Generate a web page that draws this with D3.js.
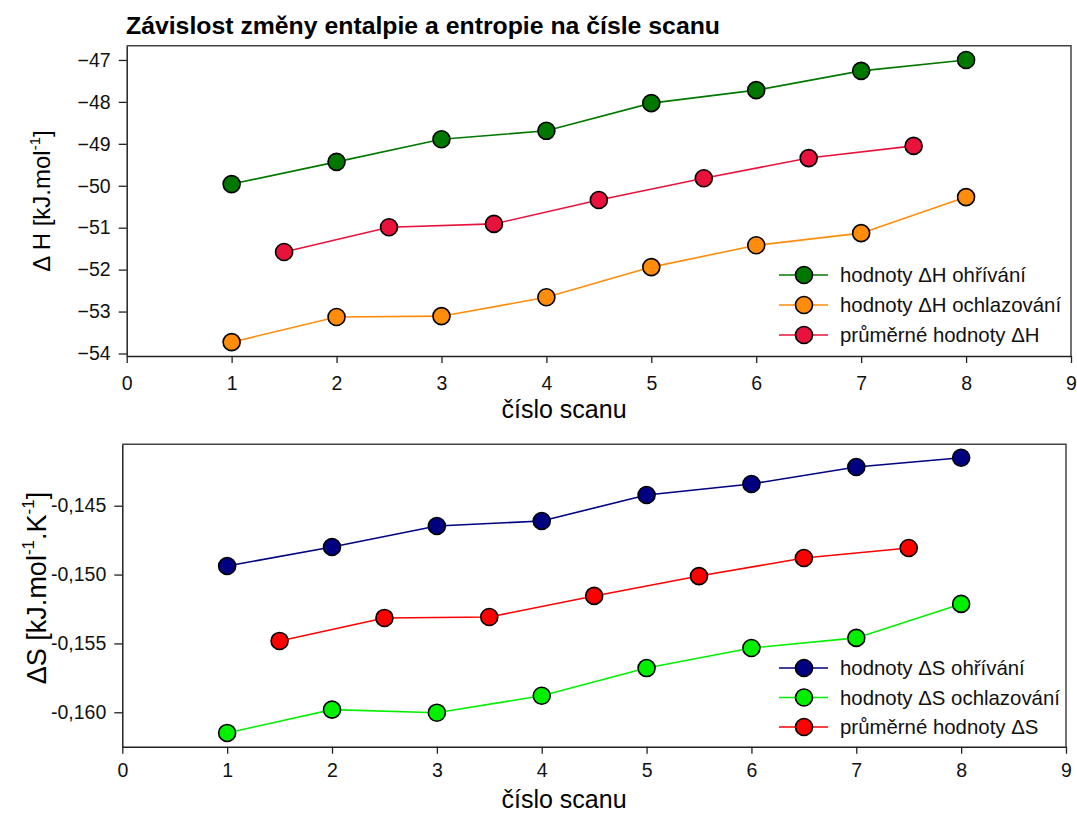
<!DOCTYPE html>
<html><head><meta charset="utf-8">
<script src="https://cdn.jsdelivr.net/npm/d3@7"></script>
<style>body{margin:0;background:#fff}svg{display:block;font-family:"Liberation Sans",Arial,sans-serif}</style>
</head><body>
<svg id="c" width="1077" height="814"></svg>
<script>
const scans = [1,2,3,4,5,6,7,8];
const avgScans = [1.5,2.5,3.5,4.5,5.5,6.5,7.5];
const xTicks = [0,1,2,3,4,5,6,7,8,9];

const dHheat = [-49.96,-49.43,-48.89,-48.69,-48.03,-47.72,-47.26,-47.00];
const dHcool = [-53.73,-53.13,-53.11,-52.66,-51.94,-51.42,-51.13,-50.27];
const dHavg  = [-51.58,-50.99,-50.91,-50.34,-49.82,-49.34,-49.05];
const hTicks = [-54,-53,-52,-51,-50,-49,-48,-47];

const dSheat = [-0.14938,-0.14800,-0.14647,-0.14611,-0.14422,-0.14342,-0.14219,-0.14152];
const dScool = [-0.16150,-0.15981,-0.16003,-0.15880,-0.15679,-0.15533,-0.15460,-0.15213];
const dSavg  = [-0.15482,-0.15315,-0.15308,-0.15155,-0.15011,-0.14880,-0.14807];
const sTicks = [-0.160,-0.155,-0.150,-0.145];

const title = "Závislost změny entalpie a entropie na čísle scanu";

const svg = d3.select("#c");

svg.append("text").attr("x",126).attr("y",34).attr("font-size",24.8).attr("font-weight","bold").text(title);

function panel(o){
  const x = d3.scaleLinear().domain([0,9]).range([o.left,o.right]);
  const y = d3.scaleLinear().domain(o.ydom).range([o.bottom,o.top]);
  const g = svg.append("g");
  g.append("path").attr("d",`M${o.left},${o.top}H${o.right}V${o.bottom}`).attr("fill","none").attr("stroke","#444").attr("stroke-width",1.5);
  const xa = g.append("g").attr("transform",`translate(0,${o.bottom})`)
    .call(d3.axisBottom(x).tickValues(xTicks).tickSize(7).tickPadding(o.xpad).tickFormat(d3.format("d")).tickSizeOuter(0));
  const ya = g.append("g").attr("transform",`translate(${o.left},0)`)
    .call(d3.axisLeft(y).tickValues(o.yticks).tickSize(8).tickPadding(8).tickFormat(o.fmt).tickSizeOuter(0));
  [xa,ya].forEach(a=>{
    a.select(".domain").attr("stroke","#222").attr("stroke-width",1.5);
    a.selectAll(".tick line").attr("stroke","#222").attr("stroke-width",1.3);
    a.selectAll("text").attr("font-size",19.5).attr("fill","#111").attr("font-family","Liberation Sans, Arial, sans-serif");
  });
  g.append("text").attr("x",564).attr("y",o.bottom+o.xtDy).attr("text-anchor","middle").attr("font-size",25).text("číslo scanu");
  const yt = g.append("text").attr("transform",`translate(${o.ytx},${o.ytc}) rotate(-90)`).attr("text-anchor","middle").attr("font-size",o.ytfs);
  o.ytitle(yt);
  o.series.forEach(s=>{
    const pts = s.xs.map((xv,i)=>[xv,s.ys[i]]);
    g.append("path").datum(pts).attr("fill","none").attr("stroke",s.color).attr("stroke-width",1.6)
      .attr("d",d3.line().x(d=>x(d[0])).y(d=>y(d[1])));
    g.selectAll(null).data(pts).enter().append("circle")
      .attr("cx",d=>x(d[0])).attr("cy",d=>y(d[1])).attr("r",8.5)
      .attr("fill",s.color).attr("stroke","#000").attr("stroke-width",1.6);
  });
  o.series.forEach((s,i)=>{
    const ly = o.legY + i*o.legDy;
    g.append("line").attr("x1",779).attr("x2",828).attr("y1",ly).attr("y2",ly).attr("stroke",s.color).attr("stroke-width",1.6);
    g.append("circle").attr("cx",804).attr("cy",ly).attr("r",8.5).attr("fill",s.color).attr("stroke","#000").attr("stroke-width",1.6);
    g.append("text").attr("x",840).attr("y",ly+7).attr("font-size",20.4).attr("fill","#111").text(s.name);
  });
}

panel({left:126.7,right:1071,top:45.7,bottom:356,ydom:[-54.06,-46.66],yticks:hTicks,fmt:d3.format("d"),
  ytx:50, ytc:201, ytfs:24, xtDy:62, xpad:13,
  ytitle:t=>{t.append("tspan").text("Δ H [kJ.mol");t.append("tspan").attr("font-size",15).attr("dy",-10).text("-1");t.append("tspan").attr("dy",10).text("]");},
  legY:275, legDy:30,
  series:[
    {name:"hodnoty ΔH ohřívání",xs:scans,ys:dHheat,color:"#007800"},
    {name:"hodnoty ΔH ochlazování",xs:scans,ys:dHcool,color:"#FF8C0A"},
    {name:"průměrné hodnoty ΔH",xs:avgScans,ys:dHavg,color:"#E8123C"}
  ]});

panel({left:122.3,right:1066,top:444.3,bottom:746.7,ydom:[-0.1625,-0.14054],yticks:sTicks,fmt:d=>d3.format(".3f")(d).replace("−","-").replace(".",","),
  ytx:46, ytc:588, ytfs:27, xtDy:61, xpad:9,
  ytitle:t=>{t.append("tspan").text("ΔS [kJ.mol");t.append("tspan").attr("font-size",17).attr("dy",-12).text("-1");t.append("tspan").attr("dy",12).text(".K");t.append("tspan").attr("font-size",17).attr("dy",-12).text("-1");t.append("tspan").attr("dy",12).text("]");},
  legY:668, legDy:29.5,
  series:[
    {name:"hodnoty ΔS ohřívání",xs:scans,ys:dSheat,color:"#000080"},
    {name:"hodnoty ΔS ochlazování",xs:scans,ys:dScool,color:"#00F000"},
    {name:"průměrné hodnoty ΔS",xs:avgScans,ys:dSavg,color:"#FF0000"}
  ]});
</script>
</body></html>
